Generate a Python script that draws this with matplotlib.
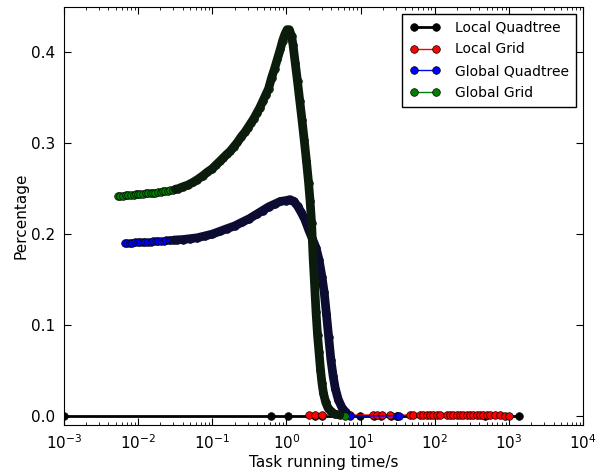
import matplotlib
matplotlib.use("Agg")
import matplotlib.pyplot as plt

# Local Quadtree (all points sit on zero)
lq_t = [0.001, 0.62, 1.05, 2.4, 3.0, 9.9, 15, 19, 26, 31, 470, 1380]
lq_p = [0.0] * len(lq_t)

# Local Grid
lg_t = [2.0, 2.4, 3.0, 7.2, 14.8, 16.7, 19.6, 25, 46.8, 51, 63, 70, 79, 87, 96,
        108, 119, 148, 162, 178, 200, 220, 243, 275, 302, 333, 375, 410, 452,
        510, 563, 658, 760, 890, 1000]
lg_p = [0.001, 0.001, 0.001, 0.001, 0.001, 0.001, 0.001, 0.001, 0.001, 0.001,
        0.001, 0.001, 0.001, 0.001, 0.001, 0.001, 0.001, 0.001, 0.001, 0.001,
        0.001, 0.001, 0.001, 0.001, 0.001, 0.001, 0.001, 0.001, 0.001, 0.001,
        0.0008, 0.0008, 0.0005, 0.0003, 0.0]

# Global Quadtree
gq_t = [0.0066, 0.0072, 0.0078, 0.0084, 0.0091, 0.0099, 0.0107, 0.0116, 0.0126,
        0.0136, 0.0148, 0.0160, 0.0174, 0.0188, 0.0204, 0.0221, 0.0240, 0.0260,
        0.0282, 0.0306, 0.0331, 0.0398, 0.0501, 0.0631, 0.0794, 0.100, 0.126,
        0.158, 0.200, 0.251, 0.316, 0.398, 0.479, 0.575, 0.692, 0.832, 1.000,
        1.122, 1.259, 1.413, 1.585, 1.778, 1.995, 2.239, 2.512, 2.754, 3.020,
        3.236, 3.467, 3.715, 3.981, 4.266, 4.571, 5.012, 5.623, 6.310, 7.244,
        31, 33]
gq_p = [0.190, 0.1902, 0.1904, 0.1906, 0.1908, 0.191, 0.1912, 0.1914, 0.1915,
        0.1917, 0.1918, 0.192, 0.1922, 0.1924, 0.1926, 0.1928, 0.193, 0.1932,
        0.1934, 0.1935, 0.1937, 0.194, 0.195, 0.196, 0.198, 0.200, 0.203,
        0.206, 0.209, 0.213, 0.217, 0.222, 0.226, 0.230, 0.233, 0.236, 0.237,
        0.238, 0.236, 0.231, 0.224, 0.216, 0.205, 0.195, 0.185, 0.172, 0.153,
        0.136, 0.112, 0.087, 0.062, 0.044, 0.030, 0.018, 0.009, 0.004, 0.0,
        0.0, 0.0]

# Global Grid
gg_t = [0.0054, 0.0058, 0.0063, 0.0068, 0.0074, 0.0080, 0.0087, 0.0093, 0.0100,
        0.0108, 0.0117, 0.0127, 0.0138, 0.0148, 0.0158, 0.0172, 0.0186, 0.0202,
        0.0219, 0.0234, 0.0251, 0.0272, 0.0295, 0.0320, 0.0347, 0.0398, 0.0468,
        0.0550, 0.0631, 0.0741, 0.0851, 0.100, 0.112, 0.126, 0.141, 0.158,
        0.174, 0.195, 0.219, 0.245, 0.275, 0.302, 0.331, 0.363, 0.398, 0.437,
        0.479, 0.525, 0.575, 0.631, 0.692, 0.759, 0.832, 0.891, 0.955, 1.023,
        1.096, 1.175, 1.230, 1.318, 1.413, 1.514, 1.622, 1.738, 1.862, 1.995,
        2.089, 2.188, 2.291, 2.399, 2.512, 2.630, 2.754, 2.884, 3.020, 3.162,
        3.388, 3.631, 3.981, 4.467, 5.248, 6.166]
gg_p = [0.242, 0.2422, 0.2425, 0.2428, 0.243, 0.2432, 0.2435, 0.2438, 0.244,
        0.2442, 0.2445, 0.2448, 0.245, 0.2452, 0.2455, 0.2458, 0.246, 0.2465,
        0.247, 0.2475, 0.248, 0.2485, 0.249, 0.2495, 0.250, 0.252, 0.254,
        0.257, 0.260, 0.264, 0.268, 0.272, 0.276, 0.280, 0.284, 0.288,
        0.291, 0.296, 0.301, 0.307, 0.312, 0.317, 0.322, 0.327, 0.333, 0.339,
        0.346, 0.353, 0.360, 0.372, 0.382, 0.393, 0.404, 0.413, 0.420, 0.425,
        0.425, 0.418, 0.408, 0.388, 0.368, 0.347, 0.326, 0.304, 0.281, 0.256,
        0.236, 0.212, 0.175, 0.145, 0.114, 0.089, 0.070, 0.051, 0.036, 0.025,
        0.015, 0.009, 0.005, 0.002, 0.001, 0.0]

fig = plt.figure(figsize=(6.08, 4.74), dpi=100)
ax = fig.add_axes([0.105, 0.1034, 0.854, 0.882])

style = dict(marker='o', markersize=5.5, markeredgecolor='k', markeredgewidth=0.5)
ax.plot(lq_t, lq_p, color='k', linewidth=2, label='Local Quadtree', **style)
ax.plot(lg_t, lg_p, color='r', linewidth=1, label='Local Grid', **style)
ax.plot(gq_t, gq_p, color='b', linewidth=1, label='Global Quadtree', **style)

# the densely packed markers merge into a dark band past ~0.03 s
gq_band = [(t, p) for t, p in zip(gq_t, gq_p) if 0.03 <= t <= 6.5]
ax.plot([t for t, p in gq_band], [p for t, p in gq_band], color='#0c0c32',
        linewidth=6.3, solid_capstyle='round', solid_joinstyle='round')

ax.plot(gg_t, gg_p, color='g', linewidth=1, label='Global Grid', **style)
gg_band = [(t, p) for t, p in zip(gg_t, gg_p) if 0.03 <= t <= 5.5]
ax.plot([t for t, p in gg_band], [p for t, p in gg_band], color='#0c1c0c',
        linewidth=6.3, solid_capstyle='round', solid_joinstyle='round')

ax.set_xscale('log')
ax.set_xlim(1e-3, 1e4)
ax.set_ylim(-0.01, 0.45)
ax.set_yticks([0.0, 0.1, 0.2, 0.3, 0.4])
ax.set_xlabel('Task running time/s', fontsize=11, labelpad=2)
ax.set_ylabel('Percentage', fontsize=11, labelpad=2)
ax.tick_params(which='both', direction='in', top=True, right=True, labelsize=11)
ax.tick_params(which='major', length=5, pad=6)
ax.tick_params(which='minor', length=2.5)

leg = ax.legend(loc='upper right', numpoints=2, fontsize=10, fancybox=False,
                handlelength=2.2, handletextpad=1.1, borderpad=0.5,
                labelspacing=0.55, framealpha=1)
leg.get_frame().set_edgecolor('k')

fig.savefig('out.png', dpi=100, facecolor='white')
